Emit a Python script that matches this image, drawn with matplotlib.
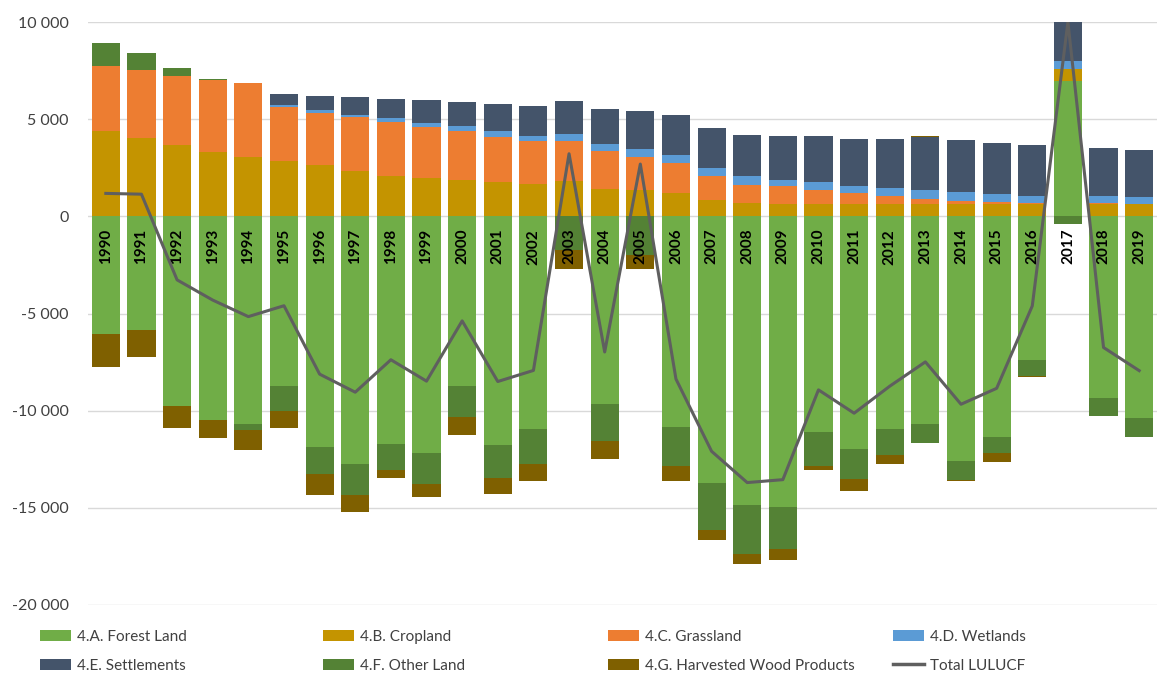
import matplotlib.pyplot as plt
from matplotlib.ticker import FuncFormatter, MultipleLocator
from matplotlib.patches import Patch
from matplotlib.lines import Line2D
import numpy as np

plt.rcParams['font.family'] = ['Lato', 'DejaVu Sans']

years = [str(y) for y in range(1990, 2020)]

forest_land = [-6060, -5860, -9760, -10480, -10680, -8730, -11850, -12760, -11710, -12160,
               -8730, -11780, -10960, 0, -9680, 0, -10820, -13730, -14850, -14970,
               -11080, -11970, -10960, -10680, -12570, -11340, -7400, 6950, -9330, -10360]
cropland = [4370, 4030, 3690, 3310, 3050, 2830, 2620, 2320, 2090, 1970,
            1890, 1750, 1680, 1800, 1410, 1340, 1200, 860, 690, 650,
            650, 650, 650, 650, 650, 650, 650, 630, 650, 650]
grassland = [3380, 3480, 3510, 3720, 3810, 2800, 2700, 2790, 2760, 2630,
             2520, 2330, 2210, 2090, 1930, 1700, 1540, 1230, 940, 890,
             690, 550, 410, 240, 160, 70, 50, 0, 30, 0]
wetlands = [0, 0, 0, 0, 0, 100, 130, 120, 210, 200,
            220, 290, 260, 350, 400, 420, 430, 400, 430, 350,
            410, 340, 400, 450, 420, 450, 360, 400, 350, 330]
settlements = [0, 0, 0, 0, 0, 580, 760, 910, 1000, 1170,
               1240, 1430, 1540, 1680, 1780, 1940, 2060, 2060, 2140, 2260,
               2370, 2460, 2540, 2740, 2720, 2600, 2590, 2420, 2490, 2420]
other_land = [1170, 890, 430, 50, -310, -1290, -1420, -1570, -1340, -1620,
              -1580, -1700, -1800, -1720, -1860, -1970, -2010, -2430, -2510, -2150,
              -1760, -1540, -1320, -960, -990, -850, -820, -400, -940, -980]
hwp = [-1680, -1400, -1140, -910, -1030, -890, -1060, -860, -390, -670,
       -940, -820, -860, -980, -960, -740, -770, -480, -540, -580,
       -210, -620, -460, 70, -60, -430, -40, 0, 0, 0]

series = [
    ("4.A. Forest Land", forest_land, "#70AD47"),
    ("4.B. Cropland", cropland, "#C49400"),
    ("4.C. Grassland", grassland, "#ED7D31"),
    ("4.D. Wetlands", wetlands, "#5B9BD5"),
    ("4.E. Settlements", settlements, "#44546A"),
    ("4.F. Other Land", other_land, "#548235"),
    ("4.G. Harvested Wood Products", hwp, "#7F6000"),
]

fig = plt.figure(figsize=(11.7, 6.88), dpi=100)
ax = fig.add_axes([88 / 1170, 1 - 605 / 688, (1157 - 88) / 1170, (605 - 22) / 688])

x = np.arange(len(years))
pos = np.zeros(len(years))
neg = np.zeros(len(years))
total = np.zeros(len(years))
handles = []
for name, vals, color in series:
    v = np.array(vals, dtype=float)
    bottom = np.where(v >= 0, pos, neg)
    ax.bar(x, v, 0.79, bottom=bottom, color=color, zorder=2)
    pos += np.where(v >= 0, v, 0)
    neg += np.where(v < 0, v, 0)
    total += v
    handles.append(Patch(facecolor=color, label=name))

ax.plot(x, total, color="#5f5f5f", lw=2.2, zorder=5)
handles.append(Line2D([], [], color="#5f5f5f", lw=2.5, label="Total LULUCF"))

ax.set_xlim(-0.5, len(years) - 0.5)
ax.set_ylim(-20000, 10000)
ax.yaxis.set_major_locator(MultipleLocator(5000))
ax.yaxis.set_major_formatter(FuncFormatter(lambda v, p: f"{int(v):,}".replace(",", " ")))
ax.yaxis.grid(True, color="#D9D9D9", lw=1)
ax.set_axisbelow(True)

# x axis sits on the zero line; year labels run down inside the bars
ax.spines['bottom'].set_position(('data', 0))
for s in ax.spines.values():
    s.set_visible(False)
ax.set_xticks(x)
ax.set_xticklabels(years, fontweight="bold", fontsize=11)
ax.tick_params(axis='x', length=0, pad=9, colors="black", labelrotation=90)
ax.tick_params(axis='y', length=0, pad=14, labelsize=11.5, labelcolor="#404040")
ax.xaxis.set_zorder(3)

# legend: 4 columns placed at fixed positions, two rows each
col_x = [40, 323, 608, 893]
for i, cx in enumerate(col_x):
    fig.legend(handles=[handles[i], handles[i + 4]], loc="upper left",
               bbox_to_anchor=(cx / 1170, 1 - 630 / 688), frameon=False,
               borderpad=0, borderaxespad=0, handlelength=2.0, handleheight=0.7,
               handletextpad=0.4, labelspacing=0.95, fontsize=11, labelcolor="#404040")

fig.savefig("out.png", dpi=100, facecolor="white")
